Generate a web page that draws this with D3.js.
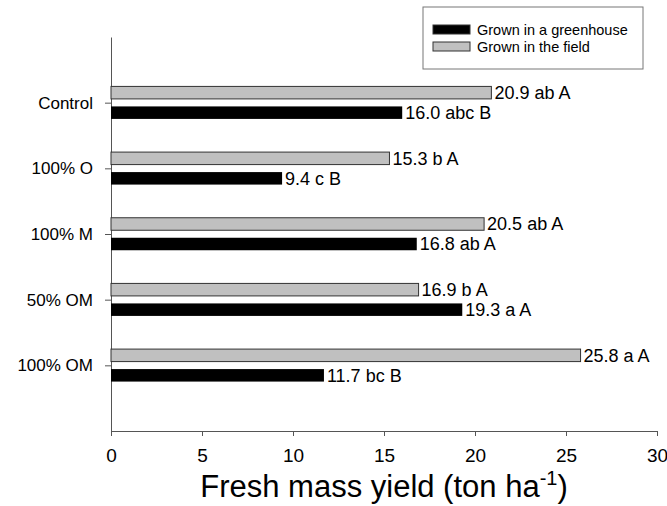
<!DOCTYPE html>
<html>
<head>
<meta charset="utf-8">
<script src="https://cdn.jsdelivr.net/npm/d3@7"></script>
<style>
  body { margin: 0; background: #fff; }
  svg { font-family: "Liberation Sans", Arial, sans-serif; }
</style>
</head>
<body>
<svg id="chart"></svg>
<script>
// values
const categories = ['Control', '100% O', '100% M', '50% OM', '100% OM']
const greenhouse = [16.0, 9.4, 16.8, 19.3, 11.7]
const field = [20.9, 15.3, 20.5, 16.9, 25.8]
const greenhouseLetters = ['abc B', 'c B', 'ab A', 'a A', 'bc B']
const fieldLetters = ['ab A', 'b A', 'ab A', 'b A', 'a A']
const xTicks = [0, 5, 10, 15, 20, 25, 30]
const seriesNames = ['Grown in a greenhouse', 'Grown in the field']

const width = 667
const height = 506
const margin = {top: 37, right: 10, bottom: 75, left: 111}

const svg = d3.select('#chart')
  .attr('width', width)
  .attr('height', height)

const x = d3.scaleLinear()
  .domain([0, 30])
  .range([margin.left, 657])

const y = d3.scalePoint()
  .domain(categories)
  .range([margin.top, height - margin.bottom])
  .padding(1)

const barH = 12.5
const offset = 10

// x axis
const xAxis = svg.append('g')
  .attr('transform', 'translate(0,' + (height - margin.bottom) + ')')
  .call(d3.axisBottom(x).tickValues(xTicks).tickSize(5).tickSizeOuter(0).tickPadding(13))
xAxis.selectAll('text').style('font-size', '19px').attr('fill', '#000')
xAxis.selectAll('line, path').attr('stroke', '#555')

// y axis
const yAxis = svg.append('g')
  .attr('transform', 'translate(' + margin.left + ',0)')
  .call(d3.axisLeft(y).tickSize(6).tickSizeOuter(0).tickPadding(12))
yAxis.selectAll('text').style('font-size', '17px').attr('fill', '#000')
yAxis.selectAll('line, path').attr('stroke', '#555')

// field bars (grey, on top)
svg.append('g')
  .selectAll('rect')
  .data(field)
  .enter()
  .append('rect')
  .attr('x', x(0))
  .attr('y', (d, i) => y(categories[i]) - offset - barH / 2)
  .attr('width', d => x(d) - x(0))
  .attr('height', barH)
  .attr('fill', '#c0c0c0')
  .attr('stroke', '#333')
  .attr('stroke-width', 1)

// greenhouse bars (black)
svg.append('g')
  .selectAll('rect')
  .data(greenhouse)
  .enter()
  .append('rect')
  .attr('x', x(0))
  .attr('y', (d, i) => y(categories[i]) + offset - barH / 2)
  .attr('width', d => x(d) - x(0))
  .attr('height', barH)
  .attr('fill', '#000')

// value labels
svg.append('g')
  .selectAll('text')
  .data(field)
  .enter()
  .append('text')
  .attr('x', d => x(d) + 3)
  .attr('y', (d, i) => y(categories[i]) - offset)
  .attr('dy', '0.35em')
  .style('font-size', '18px')
  .text((d, i) => d.toFixed(1) + ' ' + fieldLetters[i])

svg.append('g')
  .selectAll('text')
  .data(greenhouse)
  .enter()
  .append('text')
  .attr('x', d => x(d) + 3)
  .attr('y', (d, i) => y(categories[i]) + offset)
  .attr('dy', '0.35em')
  .style('font-size', '18px')
  .text((d, i) => d.toFixed(1) + ' ' + greenhouseLetters[i])

// axis title
const title = svg.append('text')
  .attr('x', (x(0) + x(30)) / 2)
  .attr('y', 497)
  .attr('text-anchor', 'middle')
  .style('font-size', '31px')
title.append('tspan').text('Fresh mass yield (ton ha')
title.append('tspan').attr('dy', -12).style('font-size', '20px').text('-1')
title.append('tspan').attr('dy', 12).text(')')

// legend
const legend = svg.append('g')
legend.append('rect')
  .attr('x', 423).attr('y', 7)
  .attr('width', 220).attr('height', 62)
  .attr('fill', '#fff')
  .attr('stroke', '#777')

const swatchFill = ['#000', '#c0c0c0']
seriesNames.forEach((name, i) => {
  const cy = 29.5 + i * 17
  legend.append('rect')
    .attr('x', 433).attr('y', cy - 4.5)
    .attr('width', 37).attr('height', 9)
    .attr('fill', swatchFill[i])
    .attr('stroke', '#333')
  legend.append('text')
    .attr('x', 477).attr('y', cy)
    .attr('dy', '0.35em')
    .style('font-size', '14.5px')
    .text(name)
})
</script>
</body>
</html>
